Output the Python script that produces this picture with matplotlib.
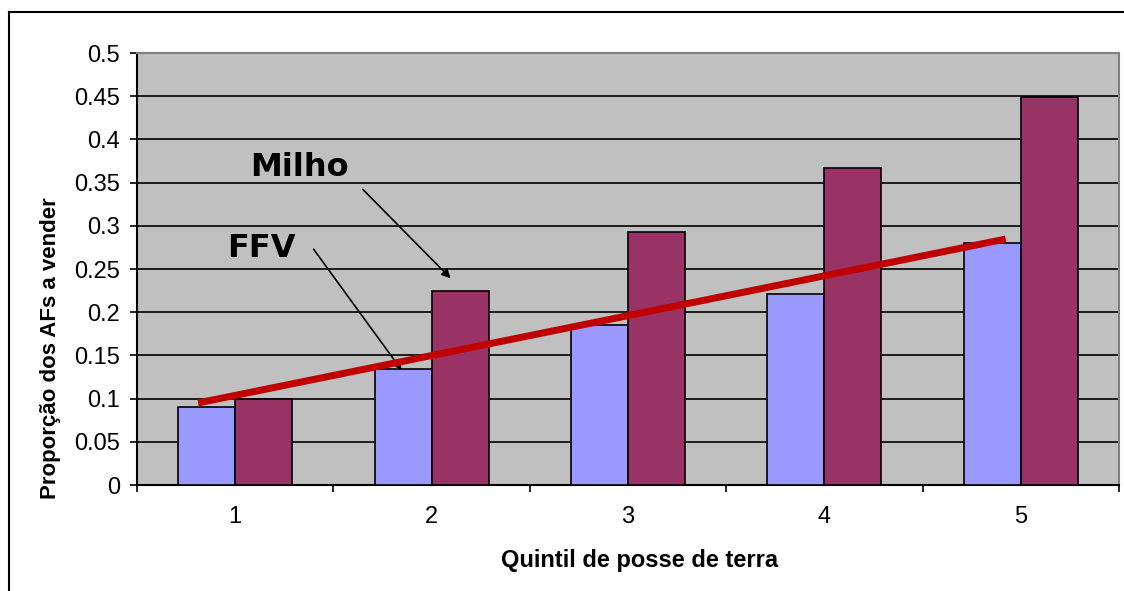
import numpy as np
import matplotlib
matplotlib.use("Agg")
from matplotlib import pyplot as plt
from matplotlib.lines import Line2D

plt.rcParams['font.family'] = ['Liberation Sans', 'DejaVu Sans']

# dados por quintil
quintis = [1, 2, 3, 4, 5]
ffv = [0.0906, 0.134, 0.185, 0.2207, 0.2804]
milho = [0.099, 0.225, 0.293, 0.367, 0.449]

# linha de tendencia desenhada sobre as barras
tend_x = [0.811, 4.923]
tend_y = [0.095, 0.2847]

cor_ffv = '#9999FF'
cor_milho = '#993366'
cor_fundo = '#C0C0C0'

W, H = 1124, 591
fig = plt.figure(figsize=(W/100, H/100), dpi=100)
ax = fig.add_axes([137/W, 1 - 485/H, (1119-137)/W, 432/H])
ax.set_facecolor(cor_fundo)

x = np.array(quintis, dtype=float)
larg = 0.29
ax.bar(x - larg/2, ffv, larg, color=cor_ffv, edgecolor='black', linewidth=1.2, zorder=3)
ax.bar(x + larg/2, milho, larg, color=cor_milho, edgecolor='black', linewidth=1.2, zorder=3)

ax.plot(tend_x, tend_y, color='#C00000', linewidth=5, solid_capstyle='butt', zorder=5)

ax.set_xlim(0.5, 5.5)
ax.set_ylim(0, 0.5)
ax.set_yticks(np.arange(0, 0.51, 0.05))
ax.set_yticklabels(['0', '0.05', '0.1', '0.15', '0.2', '0.25', '0.3', '0.35', '0.4', '0.45', '0.5'])
ax.yaxis.grid(True, color='black', linewidth=1.2, zorder=1)
ax.set_axisbelow(True)

# marcas entre categorias, rotulos no centro
ax.set_xticks(np.arange(0.5, 5.6, 1.0))
ax.set_xticklabels([])
ax.set_xticks(x, minor=True)
ax.set_xticklabels([str(q) for q in quintis], minor=True)
ax.tick_params(axis='x', which='major', direction='out', length=5, width=1.2)
ax.tick_params(axis='x', which='minor', length=0, pad=15, labelsize=17)
ax.tick_params(axis='y', direction='out', length=5, width=1.2, pad=7, labelsize=17)

for s in ['left', 'bottom']:
    ax.spines[s].set_color('black')
    ax.spines[s].set_linewidth(1.5)
for s in ['top', 'right']:
    ax.spines[s].set_color('#808080')
    ax.spines[s].set_linewidth(1.5)

# titulos dos eixos
fig.text(640/W, 1 - 561/H, 'Quintil de posse de terra', fontsize=17, fontweight='bold',
         ha='center', va='center')
fig.text(51/W, 1 - 348/H, 'Proporção dos AFs a vender', fontsize=16, fontweight='bold',
         rotation=90, ha='center', va='center')

# nomes das series com setas
ax.text(1.327, 0.3576, 'Milho', fontsize=23, fontweight='bold', family='DejaVu Sans',
        ha='center', va='baseline', zorder=6)
ax.text(1.133, 0.2639, 'FFV', fontsize=23, fontweight='bold', family='DejaVu Sans',
        ha='center', va='baseline', zorder=6)
ax.annotate('', xy=(2.097, 0.2392), xytext=(1.6495, 0.3422),
            arrowprops=dict(arrowstyle='-|>', color='black', lw=1.2,
                            mutation_scale=13, shrinkA=0, shrinkB=0), zorder=6)
ax.annotate('', xy=(1.847, 0.1331), xytext=(1.3995, 0.2728),
            arrowprops=dict(arrowstyle='-|>', color='black', lw=1.2,
                            mutation_scale=8, shrinkA=0, shrinkB=0), zorder=4)

# moldura externa
fig.add_artist(Line2D([9/W, 1], [1 - 12/H, 1 - 12/H], color='black', linewidth=1.5))
fig.add_artist(Line2D([9/W, 9/W], [0, 1 - 12/H], color='black', linewidth=1.5))

fig.savefig('out.png', dpi=100)
